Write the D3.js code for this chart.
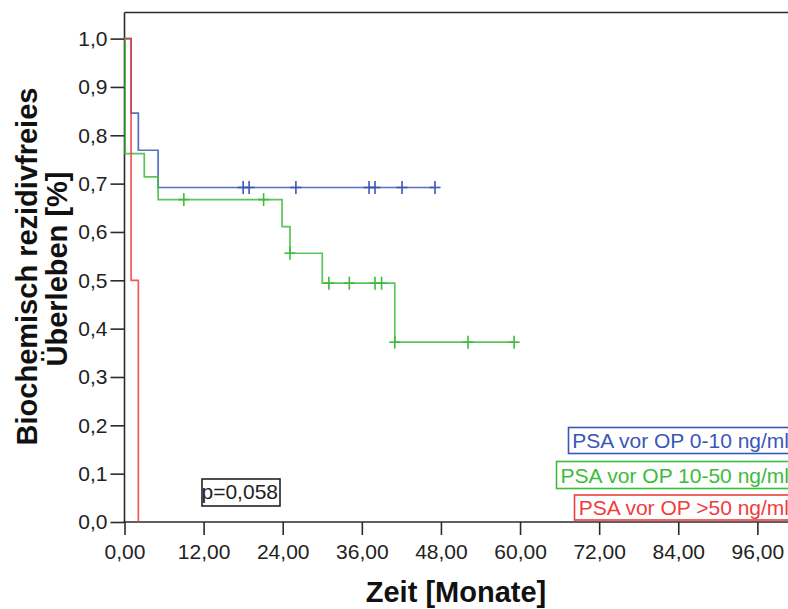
<!DOCTYPE html>
<html>
<head>
<meta charset="utf-8">
<script src="https://cdn.jsdelivr.net/npm/d3@7"></script>
<style>
  html, body { margin: 0; padding: 0; background: #fff; }
  svg { display: block; }
  text { font-family: "Liberation Sans", Arial, sans-serif; }
</style>
</head>
<body>
<svg id="chart" width="788" height="609"></svg>
<script>
// Kaplan-Meier step curves: event times (months) and survival after each step
const seriesNames = ["PSA vor OP 0-10 ng/ml", "PSA vor OP 10-50 ng/ml", "PSA vor OP >50 ng/ml"];
const seriesColors = ["#3b57b6", "#3dbb3d", "#ef3d3d"];

const lowTimes = [0, 1.0, 2.1, 5.1];
const lowSurv  = [1.0, 0.846, 0.769, 0.692];
const lowEnd   = 47.1;
const lowCensored = [18.0, 18.9, 26.0, 37.1, 38.0, 42.1, 47.1];

const midTimes = [0, 0.1, 3.0, 5.1, 23.9, 25.1, 30.0, 41.0];
const midSurv  = [1.0, 0.762, 0.714, 0.667, 0.611, 0.556, 0.494, 0.372];
const midEnd   = 59.1;
const midCensored = [9.0, 21.1, 25.1, 31.0, 34.1, 38.0, 39.0, 41.0, 52.1, 59.1];

const highTimes = [0, 1.0, 2.1];
const highSurv  = [1.0, 0.5, 0.0];
const highEnd   = 2.1;
const highCensored = [];

const xTickValues = [0, 12, 24, 36, 48, 60, 72, 84, 96];
const yTickValues = [0, 0.1, 0.2, 0.3, 0.4, 0.5, 0.6, 0.7, 0.8, 0.9, 1.0];
const pValueLabel = "p=0,058";

const series = [
  { name: seriesNames[0], color: seriesColors[0], times: lowTimes, surv: lowSurv, end: lowEnd, cens: lowCensored },
  { name: seriesNames[1], color: seriesColors[1], times: midTimes, surv: midSurv, end: midEnd, cens: midCensored },
  { name: seriesNames[2], color: seriesColors[2], times: highTimes, surv: highSurv, end: highEnd, cens: highCensored }
];

const svg = d3.select("#chart");
const plotLeft = 124.5, plotRight = 791, plotTop = 12.5, plotBottom = 522;

const x = d3.scaleLinear().domain([0, 101.1]).range([plotLeft, plotRight]);
const y = d3.scaleLinear().domain([0, 1.054]).range([plotBottom, plotTop]);

const axisColor = "#2b2b2b";
const textColor = "#222";

// frame top line
svg.append("line")
  .attr("x1", plotLeft).attr("x2", 788).attr("y1", plotTop).attr("y2", plotTop)
  .attr("stroke", axisColor).attr("stroke-width", 1.6);

// y axis
const yAxis = svg.append("g")
  .attr("transform", `translate(${plotLeft},0)`)
  .call(d3.axisLeft(y).tickValues(yTickValues).tickSize(14).tickPadding(3)
    .tickFormat(d => d3.format(".1f")(d).replace(".", ",")));
yAxis.select(".domain").remove();
yAxis.append("line").attr("x1", 0).attr("x2", 0).attr("y1", plotTop).attr("y2", plotBottom)
  .attr("stroke", axisColor).attr("stroke-width", 1.6);
yAxis.selectAll(".tick line").attr("stroke", axisColor).attr("stroke-width", 1.6);
yAxis.selectAll(".tick text").attr("font-size", 21).attr("fill", textColor);

// x axis
const xAxis = svg.append("g")
  .attr("transform", `translate(0,${plotBottom})`)
  .call(d3.axisBottom(x).tickValues(xTickValues).tickSize(13).tickPadding(9)
    .tickFormat(d => d3.format(".2f")(d).replace(".", ",")));
xAxis.select(".domain").remove();
xAxis.append("line").attr("x1", plotLeft - 1).attr("x2", 788).attr("y1", 0).attr("y2", 0)
  .attr("stroke", axisColor).attr("stroke-width", 1.6);
xAxis.selectAll(".tick line").attr("stroke", axisColor).attr("stroke-width", 1.6);
xAxis.selectAll(".tick text").attr("font-size", 21).attr("fill", textColor);

// survival step lines
function survivalAt(s, t) {
  let v = s.surv[0];
  for (let i = 0; i < s.times.length; i++) if (s.times[i] <= t) v = s.surv[i];
  return v;
}

const line = d3.line().x(d => x(d[0])).y(d => y(d[1])).curve(d3.curveStepAfter);

series.forEach(s => {
  const pts = s.times.map((t, i) => [t, s.surv[i]]);
  if (s.end > s.times[s.times.length - 1]) pts.push([s.end, s.surv[s.surv.length - 1]]);
  svg.append("path")
    .datum(pts)
    .attr("d", line)
    .attr("fill", "none")
    .attr("stroke", s.color)
    .attr("stroke-width", 1.7)
    .attr("stroke-opacity", 0.85);

  // censoring crosses
  const g = svg.append("g");
  s.cens.forEach(t => {
    const cx = x(t), cy = y(survivalAt(s, t));
    g.append("line").attr("x1", cx).attr("x2", cx).attr("y1", cy - 6.5).attr("y2", cy + 6.5)
      .attr("stroke", s.color).attr("stroke-width", 1.6);
    g.append("line").attr("x1", cx - 5.5).attr("x2", cx + 5.5).attr("y1", cy).attr("y2", cy)
      .attr("stroke", s.color).attr("stroke-width", 1.6);
  });
});

// legend boxes, right-aligned and running past the edge
const legendRows = [
  { boxX: 568.5, y0: 427.5, h: 26 },
  { boxX: 556.5, y0: 461.5, h: 27 },
  { boxX: 574.5, y0: 495, h: 25 }
];
series.forEach((s, i) => {
  const r = legendRows[i];
  svg.append("rect")
    .attr("x", r.boxX).attr("y", r.y0).attr("width", 800 - r.boxX).attr("height", r.h)
    .attr("fill", "#fff").attr("stroke", s.color).attr("stroke-width", 1.6);
  svg.append("text")
    .attr("x", 789).attr("y", r.y0 + r.h - 5.5)
    .attr("text-anchor", "end")
    .attr("font-size", 21)
    .attr("fill", s.color)
    .text(s.name);
});

// p value box
svg.append("rect")
  .attr("x", 202).attr("y", 479).attr("width", 78).attr("height", 27)
  .attr("fill", "#fff").attr("stroke", "#222").attr("stroke-width", 1.6);
svg.append("text")
  .attr("x", 201.5).attr("y", 499)
  .attr("font-size", 21)
  .attr("fill", textColor)
  .text(pValueLabel);

// axis titles
svg.append("text")
  .attr("x", 456).attr("y", 602)
  .attr("text-anchor", "middle")
  .attr("font-size", 29).attr("font-weight", "bold")
  .attr("fill", "#111")
  .text("Zeit [Monate]");

svg.append("text")
  .attr("transform", "translate(37,266.5) rotate(-90)")
  .attr("text-anchor", "middle")
  .attr("font-size", 29).attr("font-weight", "bold")
  .attr("fill", "#111")
  .text("Biochemisch rezidivfreies");
svg.append("text")
  .attr("transform", "translate(66.5,269) rotate(-90)")
  .attr("text-anchor", "middle")
  .attr("font-size", 29).attr("font-weight", "bold")
  .attr("fill", "#111")
  .text("Überleben [%]");
</script>
</body>
</html>
